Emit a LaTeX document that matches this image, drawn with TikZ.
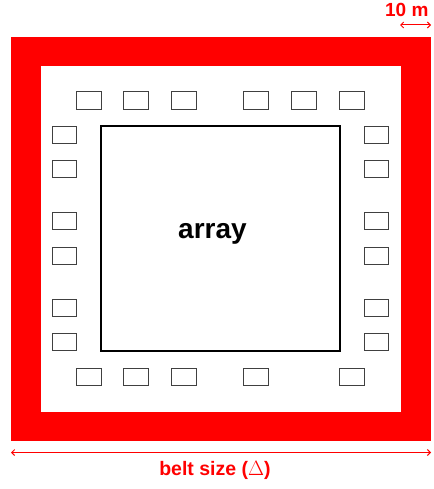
\documentclass[tikz,border=0pt]{standalone}
\usepackage{fontspec}
\setmainfont{Liberation Sans}
\usetikzlibrary{arrows.meta,positioning}

\tikzset{
  pad/.style={draw=black!75, line width=1.2pt, minimum width=24.5pt, minimum height=17.5pt, inner sep=0pt, outer sep=0pt},
  plain/.style={inner sep=0pt, outer sep=0pt},
  dimarrow/.style={{Straight Barb[length=3pt,width=6pt]}-{Straight Barb[length=3pt,width=6pt]}, draw=red, line width=1pt},
}

\begin{document}
\begin{tikzpicture}[x=1pt, y=-1pt]
    \useasboundingbox (0,0) rectangle (433,489);
    \node[plain, fill=red, minimum width=420pt, minimum height=404pt] (belt) at (221,239) {};
    \node[plain, fill=white, minimum width=360pt, minimum height=346pt] (inside) at (221,239) {};
    \node[plain, draw=black, line width=1.1pt, minimum width=239pt, minimum height=225pt] (array) at (220.5,238.5) {};
    \node[anchor=base, font=\bfseries\fontsize{28}{31}\selectfont] (arraylbl) at (212.5,238.5) {array};

    \foreach \x [count=\i] in {89,136,184,256,304,352}
        \node[pad] (top\i) at (\x,100.5) {};
    \foreach \x [count=\i] in {89,136,184,256,352}
        \node[pad] (bot\i) at (\x,377) {};
    \foreach \y [count=\i] in {135,169,221,256,308,342} {
        \node[pad] (left\i) at (64.5,\y) {};
        \node[pad] (right\i) at (376.5,\y) {};
    }

    \coordinate (widthL) at (400,25);
    \coordinate (widthR) at (431,25);
    \draw[dimarrow] (widthL) -- (widthR);
    \node[anchor=base east, text=red, font=\bfseries\fontsize{19}{22}\selectfont] (widthlbl) at (432,17) {10 m};

    \coordinate (beltL) at (11,452.5);
    \coordinate (beltR) at (431,452.5);
    \draw[dimarrow] (beltL) -- (beltR);
    \node[anchor=base, text=red, font=\bfseries\fontsize{19.5}{23}\selectfont] (beltlbl) at (215,475) {belt size ($\Delta$)};
\end{tikzpicture}
\end{document}
